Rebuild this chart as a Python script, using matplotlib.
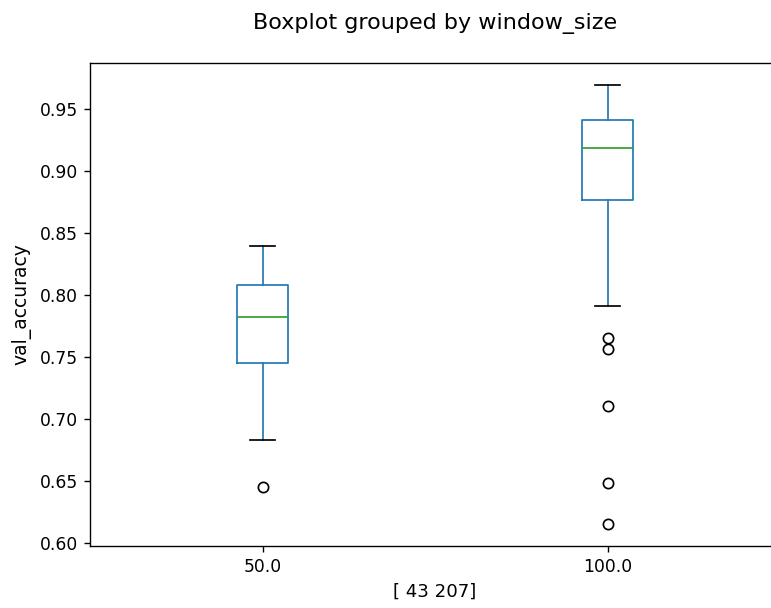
import matplotlib
matplotlib.use("Agg")
import matplotlib.pyplot as plt

# window_size groups and box statistics
window_sizes = ["50.0", "100.0"]
whisker_low = [0.683, 0.791]
q1 = [0.745, 0.876]
medians = [0.782, 0.918]
q3 = [0.808, 0.941]
whisker_high = [0.839, 0.969]
outliers = [
    [0.645],
    [0.765, 0.756, 0.710, 0.648, 0.615],
]

stats = []
for i, name in enumerate(window_sizes):
    stats.append({
        "label": name,
        "whislo": whisker_low[i],
        "q1": q1[i],
        "med": medians[i],
        "q3": q3[i],
        "whishi": whisker_high[i],
        "fliers": outliers[i],
    })

dpi = 123
fig = plt.figure(figsize=(771 / dpi, 608 / dpi), dpi=dpi)
ax = fig.add_axes([90 / 771, 62 / 608, 690 / 771, 483 / 608])

ax.bxp(stats, positions=[1, 2], widths=0.15,
       boxprops=dict(color="C0"),
       whiskerprops=dict(color="C0"),
       medianprops=dict(color="C2"),
       capprops=dict(color="k"),
       flierprops=dict(marker="o", markerfacecolor="none", markeredgecolor="k"))

ax.set_xlim(0.5, 2.5)
ax.set_xlabel("[ 43 207]", fontsize=10.6)
ax.set_ylabel("val_accuracy", fontsize=11, labelpad=5)
fig.suptitle("Boxplot grouped by window_size", fontsize=13,
             x=435 / 771, y=1 - 24 / 608, va="center")

fig.savefig("out.png", dpi=dpi)
